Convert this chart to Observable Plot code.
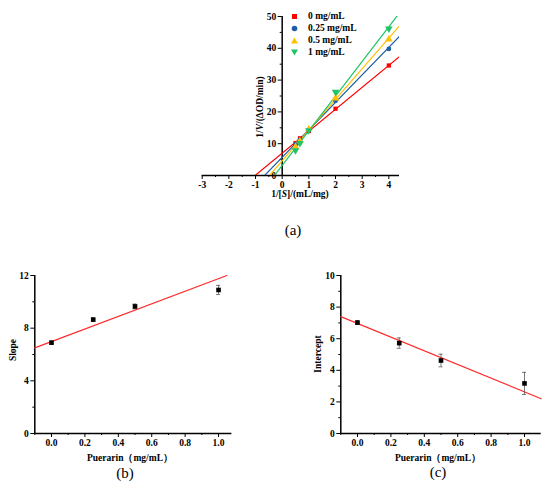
<!DOCTYPE html>
<html><head><meta charset="utf-8">
<script src="https://cdn.jsdelivr.net/npm/d3@7"></script>
<script src="https://cdn.jsdelivr.net/npm/@observablehq/plot@0.6"></script>
<style>
body{margin:0;background:#fff;}
#root{position:relative;width:550px;height:495px;overflow:hidden;font-family:"Liberation Serif","Times New Roman",serif;color:#000;}
.abs{position:absolute;}
.lbl{font-weight:bold;font-size:9.5px;white-space:nowrap;font-family:"Liberation Serif",serif;}
.vert{transform:translate(-50%,-50%) rotate(-90deg);}
.hc{transform:translate(-50%,-50%);}
.cap{font-size:15px;white-space:nowrap;font-family:"Liberation Serif",serif;}
.leg{display:flex;align-items:center;height:12px;}
svg text{font-family:"Liberation Serif",serif !important;font-weight:bold;}
</style></head>
<body><div id="root"></div>
<script>
// ---------- data ----------
const invS = [0.5, 0.667, 1, 2, 4];
const concLabels = ["0 mg/mL", "0.25 mg/mL", "0.5 mg/mL", "1 mg/mL"];
const concColors = ["#ff0000", "#1f5fa8", "#ffc000", "#1fc466"];
const concSymbols = ["square", "circle", "triangle", "triangle"];
const concRotate = [0, 0, 0, 180];
const invV_0 = [10.2, 11.7, 14.0, 21.0, 34.6];
const invV_025 = [9.8, 11.2, 14.2, 23.5, 39.8];
const invV_05 = [9.0, 10.8, 14.6, 24.3, 42.8];
const invV_1 = [7.9, 10.2, 14.2, 26.3, 46.2];
const fitSlope = [6.9, 8.65, 9.65, 10.9];
const fitIntercept = [7.02, 5.72, 4.62, 3.17];

const puerarin = [0, 0.25, 0.5, 1.0];
const slopeVals = [6.9, 8.65, 9.65, 10.9];
const slopeErr = [0.1, 0.12, 0.18, 0.35];
const slopeLineX = [-0.1, 1.05];
const slopeLineY = [6.5, 12.0];
const interceptVals = [7.02, 5.72, 4.62, 3.17];
const interceptErr = [0.12, 0.33, 0.4, 0.7];
const interceptLineX = [-0.1, 1.1];
const interceptLineY = [7.4, 2.2];

const xTicksA = [-3, -2, -1, 0, 1, 2, 3, 4];
const xMinorA = [-2.5, -1.5, -0.5, 0.5, 1.5, 2.5, 3.5];
const yTicksA = [0, 10, 20, 30, 40, 50];
const yMinorA = [5, 15, 25, 35, 45];
const xTicksBC = [0, 0.2, 0.4, 0.6, 0.8, 1.0];
const xMinorBC = [-0.1, 0.1, 0.3, 0.5, 0.7, 0.9];
const yTicksB = [0, 4, 8, 12];
const yMinorB = [2, 6, 10];
const yTicksC = [0, 2, 4, 6, 8, 10];
const yMinorC = [1, 3, 5, 7, 9];

// ---------- build ----------
const root = document.getElementById("root");
const font = {fontFamily: "'Liberation Serif', serif", fontSize: "9.5px", fontWeight: "bold", color: "#000", background: "transparent", overflow: "visible"};

function place(el, left, top) {
  const d = document.createElement("div");
  d.className = "abs"; d.style.left = left + "px"; d.style.top = top + "px";
  d.appendChild(el); root.appendChild(d); return d;
}
function label(html, x, y, cls) {
  const d = document.createElement("div");
  d.className = "abs " + cls; d.style.left = x + "px"; d.style.top = y + "px";
  d.innerHTML = html; root.appendChild(d);
}

// Panel (a)
const series = [invV_0, invV_025, invV_05, invV_1];
const pts = [];
series.forEach((vals, s) => vals.forEach((v, i) => pts.push({x: invS[i], y: v, s})));
const xDomA = [-3, 4.4];
const lines = [];
fitSlope.forEach((m, s) => {
  const b = fitIntercept[s];
  lines.push({x: -b / m, y: 0, s});
  lines.push({x: xDomA[1], y: m * xDomA[1] + b, s});
});
const aW = 550, aML = 201.7, aMR = 151;
const dxA = (0 - xDomA[0]) / (xDomA[1] - xDomA[0]) * (aW - aML - aMR);
const pa = Plot.plot({
  width: aW, height: 200, marginLeft: aML, marginRight: aMR, marginTop: 16, marginBottom: 25,
  x: {domain: xDomA}, y: {domain: [0, 50]},
  style: font,
  marks: [
    Plot.ruleY([0], {x1: xDomA[0], x2: xDomA[1], strokeWidth: 1.5}),
    Plot.ruleX([0], {y1: 0, y2: 50, strokeWidth: 1.5}),
    Plot.axisX({ticks: xTicksA, tickSize: 4, tickFormat: d => String(d), label: null, tickPadding: 2}),
    Plot.axisX({ticks: xMinorA, tickSize: 2, text: null, label: null}),
    Plot.axisY({ticks: yTicksA, tickSize: 4, dx: dxA, label: null, tickPadding: 2}),
    Plot.axisY({ticks: yMinorA, tickSize: 2, dx: dxA, text: null, label: null}),
    ...[0, 1, 2, 3].map(s => Plot.line(lines.filter(d => d.s === s), {x: "x", y: "y", stroke: concColors[s], strokeWidth: 1.2, clip: true})),
    ...[0, 1, 2, 3].map(s => Plot.dot(pts.filter(d => d.s === s), {x: "x", y: "y", fill: concColors[s], symbol: concSymbols[s], rotate: concRotate[s], r: s >= 2 ? 2.8 : 2.4, stroke: "none"}))
  ]
});
place(pa, 0, 0);

// legend (a)
concLabels.forEach((t, s) => {
  const sym = s === 0 ? `<rect x="2" y="2" width="5" height="5" fill="${concColors[s]}"/>`
    : s === 1 ? `<circle cx="4.5" cy="4.5" r="2.8" fill="${concColors[s]}"/>`
    : s === 2 ? `<path d="M4.5,1.5 L8,7.5 L1,7.5 Z" fill="${concColors[s]}"/>`
    : `<path d="M1,1.5 L8,1.5 L4.5,7.5 Z" fill="${concColors[s]}"/>`;
  const d = document.createElement("div");
  d.className = "abs leg lbl";
  d.style.left = "290px"; d.style.top = (10 + s * 12) + "px";
  d.innerHTML = `<svg width="9" height="9" style="margin-right:9px">${sym}</svg><span>${t}</span>`;
  root.appendChild(d);
});
label("1/<i>V</i>/(ΔOD/min)", 260, 107, "lbl vert");
label("1/[<i>S</i>]/(mL/mg)", 300, 194, "lbl hc");
label("(a)", 293, 230, "cap hc");

// Panels (b), (c)
function sidePanel(vals, errs, lineX, lineY, yDom, yTicks, yMinor, xDom, mL, mR) {
  const d = puerarin.map((x, i) => ({x, y: vals[i], e: errs[i]}));
  const ln = lineX.map((x, i) => ({x, y: lineY[i]}));
  return Plot.plot({
    width: 275, height: 235, marginLeft: mL, marginRight: mR, marginTop: 15, marginBottom: 62,
    x: {domain: xDom}, y: {domain: yDom},
    style: font,
    marks: [
      Plot.ruleY([yDom[0]], {x1: xDom[0], x2: xDom[1], strokeWidth: 1.5}),
      Plot.ruleX([xDom[0]], {y1: yDom[0], y2: yDom[1], strokeWidth: 1.5}),
      Plot.axisX({ticks: xTicksBC, tickSize: 4, tickFormat: d3.format(".1f"), label: null, tickPadding: 2}),
      Plot.axisX({ticks: xMinorBC, tickSize: 2, text: null, label: null}),
      Plot.axisY({ticks: yTicks, tickSize: 4, label: null, tickPadding: 2}),
      Plot.axisY({ticks: yMinor, tickSize: 2, text: null, label: null}),
      Plot.line(ln, {x: "x", y: "y", stroke: "#ff2a2a", strokeWidth: 1.2}),
      Plot.ruleX(d, {x: "x", y1: v => v.y - v.e, y2: v => v.y + v.e, stroke: "#555", strokeWidth: 0.8}),
      Plot.ruleY(d, {y: v => v.y + v.e, x1: v => v.x - 0.012, x2: v => v.x + 0.012, stroke: "#555", strokeWidth: 0.8}),
      Plot.ruleY(d, {y: v => v.y - v.e, x1: v => v.x - 0.012, x2: v => v.x + 0.012, stroke: "#555", strokeWidth: 0.8}),
      Plot.dot(d, {x: "x", y: "y", symbol: "square", fill: "#000", r: 2.6, stroke: "none"})
    ]
  });
}
const pb = sidePanel(slopeVals, slopeErr, slopeLineX, slopeLineY, [0, 12], yTicksB, yMinorB, [-0.1, 1.08], 34.3, 43.6);
place(pb, 0, 260);
const pc = sidePanel(interceptVals, interceptErr, interceptLineX, interceptLineY, [0, 10], yTicksC, yMinorC, [-0.1, 1.1], 65.3, 9.3);
place(pc, 275, 260);

label("Slope", 13, 350, "lbl vert");
label("Puerarin（mg/mL）", 130, 458, "lbl hc");
label("(b)", 125, 473, "cap hc");
label("Intercept", 318, 354, "lbl vert");
label("Puerarin（mg/mL）", 438, 458, "lbl hc");
label("(c)", 438, 472, "cap hc");
</script>
</body></html>
